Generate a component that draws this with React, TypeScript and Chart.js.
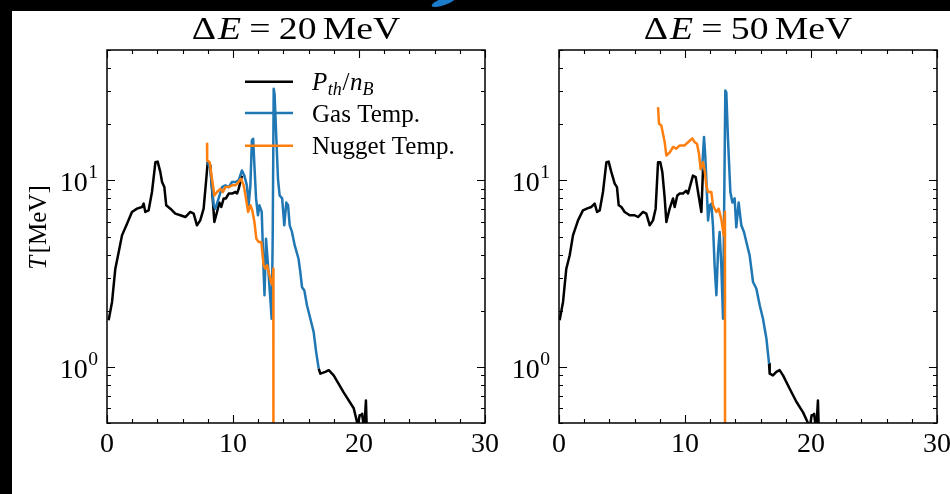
import React, { useEffect, useRef } from "react";
import { Chart, registerables } from "chart.js";
Chart.register(...registerables);

// ---------- axis / tick definitions ----------
const xMin = 0;
const xMax = 30;
const yMin = 0.5;
const yMax = 50;
const xMajorTicks = [0, 10, 20, 30];
const xTickLabels = ["0", "10", "20", "30"];
const xMinorStep = 2;
const yMajorTicks = [1, 10];
const yTickBase = "10";
const yTickExponents = ["0", "1"];
const panelDeltaE = ["20", "50"]; // ΔE in MeV
const legendLabels = ["P_th/n_B", "Gas Temp.", "Nugget Temp."];

// ---------- ΔE = 20 MeV panel ----------
const pth20X = [0.13, 0.4, 0.66, 0.93, 1.19, 1.59, 1.98, 2.38, 2.78, 2.91, 3.04, 3.3, 3.57, 3.84, 4.02, 4.23, 4.37, 4.55, 4.7, 5.03, 5.42, 5.82, 6.22, 6.61, 6.88, 7.14, 7.4, 7.67, 7.88, 7.99, 8.2, 8.39, 8.52, 8.73, 8.92, 9.07, 9.26, 9.44, 9.66, 9.92, 10.19, 10.32, 10.45, 10.71, 13.0, 16.8, 16.93, 17.33, 17.6, 17.99, 18.78, 19.58, 19.84, 19.9, 20.05, 20.15, 20.25, 20.35, 20.45, 20.55, 20.62, 20.7];
const pth20Y = [1.78, 2.23, 3.36, 4.13, 5.07, 5.86, 6.77, 7.05, 7.2, 7.5, 6.77, 6.9, 8.66, 12.5, 12.6, 11.1, 9.8, 9.2, 7.35, 7.05, 6.63, 6.5, 6.36, 6.77, 6.63, 5.74, 6.1, 7.05, 10.2, 12.5, 12.0, 7.98, 5.98, 6.77, 7.6, 7.2, 8.0, 8.0, 8.5, 8.5, 8.66, 8.5, 9.0, 10.6, null, 0.98, 0.92, 0.94, 0.96, 0.9, 0.73, 0.6, 0.507, 0.48, 0.55, 0.55, 0.56, 0.49, 0.5, 0.66, 0.45, 0.4];
const gas20X = [7.99, 8.2, 8.47, 8.6, 8.86, 9.13, 9.39, 9.66, 9.92, 10.19, 10.45, 10.71, 10.9, 11.1, 11.24, 11.38, 11.5, 11.6, 11.7, 11.83, 11.98, 12.1, 12.28, 12.43, 12.5, 12.62, 12.78, 12.96, 13.07, 13.15, 13.23, 13.3, 13.44, 13.57, 13.7, 13.9, 14.07, 14.23, 14.37, 14.5, 14.68, 14.9, 15.2, 15.34, 15.48, 15.66, 15.87, 16.14, 16.4, 16.6, 16.8];
const gas20Y = [12.5, 11.5, 7.35, 7.05, 8.0, 9.2, 9.4, 9.2, 9.8, 9.8, 10.0, 11.3, 10.6, 9.4, 7.35, 9.4, 16.4, 16.7, 12.0, 8.0, 6.5, 7.35, 6.77, 3.23, 2.42, 4.87, 3.5, 2.32, 1.81, 4.87, 31, 29, 16.7, 10.2, 8.3, 8.0, 5.74, 7.6, 7.35, 5.74, 5.29, 4.48, 3.8, 3.23, 2.67, 2.57, 2.14, 1.81, 1.54, 1.2, 0.98];
const nug20X = [7.94, 7.95, 8.15, 8.33, 8.52, 8.73, 9.0, 9.2, 9.39, 9.66, 9.92, 10.19, 10.45, 10.63, 10.85, 11.03, 11.2, 11.38, 11.53, 11.7, 11.85, 12.04, 12.25, 12.43, 12.57, 12.7, 12.83, 13.02, 13.15, 13.2, 13.21];
const nug20Y = [15.7, 12.8, 12.5, 10.2, 8.3, 8.66, 9.0, 8.66, 9.2, 9.2, 9.4, 9.4, 9.8, 10.2, 9.4, 8.0, 6.77, 7.35, 6.9, 5.98, 4.87, 4.67, 4.67, 3.5, 3.36, 3.5, 3.23, 2.85, 2.74, 3.36, 0.1];

// ---------- ΔE = 50 MeV panel ----------
const pth50X = [0.05, 0.32, 0.58, 0.85, 1.11, 1.51, 1.9, 2.3, 2.57, 2.83, 3.02, 3.23, 3.49, 3.76, 3.94, 4.15, 4.42, 4.6, 4.74, 4.95, 5.21, 5.61, 6.0, 6.27, 6.67, 6.93, 7.2, 7.46, 7.67, 7.86, 8.04, 8.2, 8.39, 8.52, 8.78, 9.05, 9.18, 9.39, 9.58, 9.84, 10.1, 10.24, 10.42, 10.63, 10.85, 11.08, 11.3, 11.43, 13.0, 16.67, 16.72, 16.98, 17.25, 17.51, 17.78, 18.3, 18.84, 19.37, 19.76, 19.9, 20.05, 20.15, 20.25, 20.35, 20.45, 20.55, 20.62, 20.7];
const pth50Y = [1.78, 2.23, 3.36, 3.97, 5.07, 6.1, 6.9, 7.1, 7.2, 7.5, 6.77, 6.9, 8.66, 12.5, 12.6, 11.1, 9.6, 9.2, 7.35, 7.2, 6.77, 6.5, 6.5, 6.36, 6.77, 6.63, 5.74, 6.1, 7.05, 12.5, 12.5, 11.1, 8.0, 5.98, 7.05, 8.0, 7.2, 8.3, 8.5, 8.5, 8.8, 8.5, 9.4, 10.6, 10.4, 8.3, 6.77, 11.5, null, 1.04, 0.92, 0.9, 0.94, 0.96, 0.9, 0.765, 0.65, 0.57, 0.5, 0.47, 0.55, 0.55, 0.56, 0.49, 0.5, 0.66, 0.45, 0.4];
const gas50X = [11.35, 11.51, 11.61, 11.69, 11.83, 11.96, 12.09, 12.22, 12.35, 12.49, 12.62, 12.75, 12.88, 13.02, 13.2, 13.28, 13.41, 13.6, 13.76, 13.94, 14.07, 14.26, 14.47, 14.68, 14.87, 15.13, 15.4, 15.66, 15.93, 16.19, 16.46, 16.67];
const gas50Y = [11.3, 17.1, 13.5, 10.2, 6.1, 7.35, 7.5, 5.74, 3.5, 2.42, 4.13, 5.29, 3.5, 1.81, 30.3, 29.6, 16.7, 8.66, 7.6, 8.0, 5.6, 7.6, 5.74, 5.29, 4.67, 3.96, 2.85, 2.63, 2.14, 1.81, 1.42, 1.04];
const nug50X = [7.86, 7.94, 8.12, 8.39, 8.52, 8.78, 9.05, 9.31, 9.58, 9.97, 10.24, 10.58, 10.77, 10.95, 11.11, 11.24, 11.43, 11.56, 11.69, 11.83, 12.09, 12.22, 12.49, 12.67, 12.88, 13.07, 13.17, 13.18];
const nug50Y = [24.7, 20.1, 19.7, 16.0, 13.6, 14.1, 15.1, 14.8, 15.4, 15.4, 16.0, 16.8, 16.0, 15.7, 13.9, 11.5, 12.5, 11.3, 9.4, 8.66, 8.66, 7.35, 6.77, 7.05, 6.2, 5.07, 6.77, 0.1];

const COLORS = ["#000000", "#1f77b4", "#ff7f0e"];
const SERIF = '"Liberation Serif", "DejaVu Serif", serif';

type Seg = { t: string; i?: boolean; s?: number; dy?: number; gap?: number };

function drawRich(ctx: CanvasRenderingContext2D, segs: Seg[], x: number, y: number, size: number, align: "left" | "center" | "right", stretch = 1) {
  const fontOf = (g: Seg) => `${g.i ? "italic " : ""}${(size * (g.s ?? 1)).toFixed(1)}px ${SERIF}`;
  const widths: number[] = [];
  let total = 0;
  for (const g of segs) {
    ctx.font = fontOf(g);
    const w = (ctx.measureText(g.t).width + (g.gap ?? 0) * size) * stretch;
    widths.push(w);
    total += w;
  }
  let cx = align === "left" ? x : align === "center" ? x - total / 2 : x - total;
  ctx.textAlign = "left";
  ctx.textBaseline = "alphabetic";
  segs.forEach((g, k) => {
    ctx.font = fontOf(g);
    ctx.save();
    ctx.translate(cx, y + (g.dy ?? 0) * size);
    ctx.scale(stretch, 1);
    ctx.fillText(g.t, 0, 0);
    ctx.restore();
    cx += widths[k];
  });
  return total;
}

function legendSegs(label: string): Seg[] {
  if (label === "P_th/n_B") {
    return [
      { t: "P", i: true, gap: 0.02 },
      { t: "th", i: true, s: 0.72, dy: 0.2, gap: 0.03 },
      { t: "/", gap: 0.02 },
      { t: "n", i: true },
      { t: "B", i: true, s: 0.72, dy: 0.2 },
    ];
  }
  return [{ t: label }];
}

function pts(xs: number[], ys: (number | null)[]) {
  return xs.map((x, k) => ({ x, y: ys[k] }));
}

function makePlugin(deltaE: string, showLegend: boolean, showYTitle: boolean) {
  return {
    id: "decor",
    afterDraw(chart: any) {
      const ctx: CanvasRenderingContext2D = chart.ctx;
      const { left, right, top, bottom } = chart.chartArea;
      const xs = chart.scales.x;
      const ys = chart.scales.y;
      ctx.save();
      ctx.fillStyle = "#000";
      ctx.strokeStyle = "#000";
      // frame
      ctx.lineWidth = 1.5;
      ctx.strokeRect(left, top, right - left, bottom - top);
      // ticks
      ctx.lineWidth = 1.1;
      const majL = 8, minL = 4;
      ctx.beginPath();
      for (let v = xMin; v <= xMax + 1e-9; v += xMinorStep) {
        const px = Math.round(xs.getPixelForValue(v)) + 0.5;
        const L = xMajorTicks.includes(v) ? majL : minL;
        ctx.moveTo(px, bottom); ctx.lineTo(px, bottom - L);
        ctx.moveTo(px, top); ctx.lineTo(px, top + L);
      }
      for (let dec = 0.1; dec <= 10; dec *= 10) {
        for (let m = 1; m <= 9; m++) {
          const v = dec * m;
          if (v < yMin - 1e-9 || v > yMax + 1e-9) continue;
          const py = Math.round(ys.getPixelForValue(v)) + 0.5;
          const L = m === 1 ? majL : minL;
          ctx.moveTo(left, py); ctx.lineTo(left + L, py);
          ctx.moveTo(right, py); ctx.lineTo(right - L, py);
        }
      }
      ctx.stroke();
      // x tick labels
      xMajorTicks.forEach((v, k) => {
        drawRich(ctx, [{ t: xTickLabels[k] }], xs.getPixelForValue(v), bottom + 29, 28, "center");
      });
      // y tick labels
      yMajorTicks.forEach((v, k) => {
        const py = ys.getPixelForValue(v);
        drawRich(ctx, [{ t: yTickBase, gap: 0.02 }, { t: yTickExponents[k], s: 0.7, dy: -0.46 }], left - 9, py + 11, 28, "right");
      });
      // title
      drawRich(
        ctx,
        [
          { t: "Δ", gap: 0.05 },
          { t: "E", i: true, gap: 0.22 },
          { t: "=", gap: 0.22 },
          { t: deltaE, gap: 0.16 },
          { t: "MeV" },
        ],
        (left + right) / 2,
        top - 11,
        32,
        "center",
        1.18
      );
      // y title
      if (showYTitle) {
        ctx.save();
        ctx.translate(34, (top + bottom) / 2 - 9);
        ctx.rotate(-Math.PI / 2);
        drawRich(ctx, [{ t: "T", i: true, gap: 0.1 }, { t: "[MeV]" }], 0, 0, 25, "center");
        ctx.restore();
      }
      // legend
      if (showLegend) {
        const rows = [31.7, 63, 95.7];
        legendLabels.forEach((lab, k) => {
          const ry = top + rows[k];
          ctx.strokeStyle = COLORS[k];
          ctx.lineWidth = 2.6;
          ctx.beginPath();
          ctx.moveTo(left + 138, ry);
          ctx.lineTo(left + 186, ry);
          ctx.stroke();
          ctx.fillStyle = "#000";
          drawRich(ctx, legendSegs(lab), left + 205, ry + 8.5, 25, "left");
        });
      }
      ctx.restore();
    },
  };
}

function Panel(props: {
  deltaE: string; legend: boolean; yTitle: boolean;
  px: number[]; py: (number | null)[]; gx: number[]; gy: number[]; nx: number[]; ny: number[];
  width: number; height: number; pad: { left: number; right: number; top: number; bottom: number };
  style: React.CSSProperties;
}) {
  const ref = useRef<HTMLCanvasElement | null>(null);
  useEffect(() => {
    if (!ref.current) return;
    const common = { pointRadius: 0, borderWidth: 2.5, tension: 0, fill: false, spanGaps: false, borderJoinStyle: "round" };
    const chart = new Chart(ref.current, {
      type: "line",
      data: {
        datasets: [
          { label: legendLabels[0], data: pts(props.px, props.py), borderColor: COLORS[0], order: 3, ...common },
          { label: legendLabels[1], data: pts(props.gx, props.gy), borderColor: COLORS[1], order: 2, ...common },
          { label: legendLabels[2], data: pts(props.nx, props.ny), borderColor: COLORS[2], order: 1, ...common },
        ],
      } as any,
      options: {
        animation: false,
        responsive: false,
        maintainAspectRatio: false,
        devicePixelRatio: 1,
        layout: { padding: props.pad },
        scales: {
          x: { type: "linear", min: xMin, max: xMax, display: false },
          y: { type: "logarithmic", min: yMin, max: yMax, display: false },
        },
        plugins: { legend: { display: false }, tooltip: { enabled: false }, title: { display: false } },
      } as any,
      plugins: [makePlugin(props.deltaE, props.legend, props.yTitle)],
    });
    return () => chart.destroy();
  }, []);
  return <canvas ref={ref} width={props.width} height={props.height} style={{ position: "absolute", width: props.width, height: props.height, ...props.style }} />;
}

export default function App() {
  return (
    <div style={{ position: "fixed", left: 0, top: 0, width: 950, height: 494, background: "#fff", overflow: "hidden" }}>
      <Panel
        deltaE={panelDeltaE[0]} legend={true} yTitle={true}
        px={pth20X} py={pth20Y} gx={gas20X} gy={gas20Y} nx={nug20X} ny={nug20Y}
        width={488} height={483} pad={{ left: 95, right: 15, top: 39, bottom: 71 }}
        style={{ left: 12, top: 11 }}
      />
      <Panel
        deltaE={panelDeltaE[1]} legend={false} yTitle={false}
        px={pth50X} py={pth50Y} gx={gas50X} gy={gas50Y} nx={nug50X} ny={nug50Y}
        width={450} height={483} pad={{ left: 59, right: 13, top: 39, bottom: 71 }}
        style={{ left: 500, top: 11 }}
      />
      <div style={{ position: "absolute", left: 0, top: 0, width: 12, height: 494, background: "#000" }} />
      <div style={{ position: "absolute", left: 0, top: 0, width: 950, height: 11, background: "#000" }} />
      <div style={{ position: "absolute", left: 431, top: -2, width: 26, height: 7, borderRadius: "50%", background: "#1c7ccc", transform: "rotate(-20deg)" }} />
    </div>
  );
}
